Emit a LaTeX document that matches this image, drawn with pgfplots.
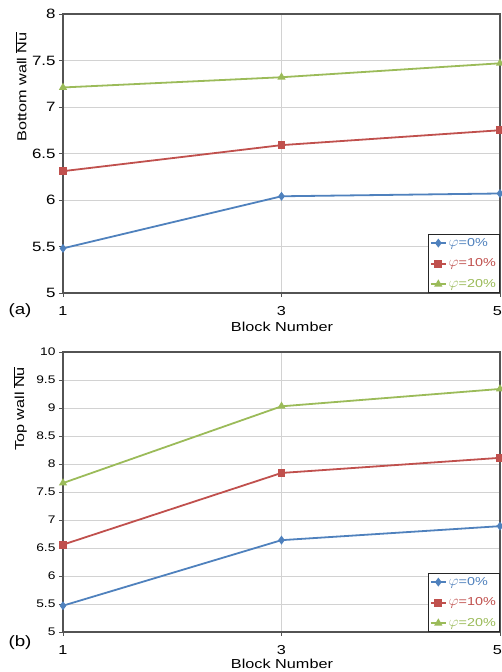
\documentclass[border=0pt]{standalone}
\usepackage{graphicx}
\usepackage{pgfplots}
\pgfplotsset{compat=1.18}
\usepackage{fontspec}
\setmainfont{Liberation Sans}[FakeStretch=1.25]
\definecolor{cblue}{HTML}{4F81BD}
\definecolor{cred}{HTML}{C0504D}
\definecolor{cgreen}{HTML}{9BBB59}
\newcommand{\phib}{\scalebox{1.3}[1.2]{$\varphi$}}
\begin{document}
\begin{tikzpicture}
\pgfplotsset{
 mybase/.style={
  scale only axis, width=437pt, anchor=south west,
  xmin=1, xmax=5, xtick={1,3,5}, xticklabels={1,3,{\hspace*{-2.5pt}5\hspace*{2.5pt}}},
  grid=major, grid style={gray!35, line width=0.8pt},
  axis line style={gray!65!black, line width=1.2pt},
  tick style={gray!65!black, line width=0.8pt},
  tick align=outside, major tick length=4pt,
  xtick pos=lower, ytick pos=left,
  /pgf/number format/assume math mode=true,
  xticklabel style={font=\fontsize{13}{15}\selectfont, yshift=-6pt},
  legend style={at={(1,0)}, anchor=south east, draw=black!85, line width=1.2pt,
    font=\fontsize{11.5}{13}\selectfont, legend cell align=left, row sep=7pt, inner sep=1.5pt},
  legend image code/.code={\draw[mark repeat=2,mark phase=2,#1] plot coordinates {(0pt,0pt)(7.5pt,0pt)(15pt,0pt)};},
  every axis plot/.append style={line width=1.8pt},
 }
}
\begin{axis}[mybase, at={(63pt,379pt)}, height=279pt, ymin=5, ymax=8,
  ytick={5,5.5,6,6.5,7,7.5,8}, yticklabel style={font=\fontsize{13.5}{15}\selectfont}]
\addplot[cblue, mark=diamond*, mark size=3pt, mark options={solid,fill=cblue}] coordinates {(1,5.48)(3,6.04)(5,6.07)};
\addlegendentry{\textcolor{cblue}{\phib=0\%}}
\addplot[cred, mark=square*, mark size=3pt, mark options={solid,fill=cred}] coordinates {(1,6.31)(3,6.59)(5,6.75)};
\addlegendentry{\textcolor{cred}{\phib=10\%}}
\addplot[cgreen, mark=triangle*, mark size=3pt, mark options={solid,fill=cgreen}] coordinates {(1,7.21)(3,7.32)(5,7.47)};
\addlegendentry{\textcolor{cgreen}{\phib=20\%}}
\end{axis}
\begin{axis}[mybase, at={(63pt,40pt)}, height=280pt, ymin=5, ymax=10,
  ytick={5,5.5,6,6.5,7,7.5,8,8.5,9,9.5,10}, yticklabel style={font=\fontsize{11}{12}\selectfont}]
\addplot[cblue, mark=diamond*, mark size=3pt, mark options={solid,fill=cblue}] coordinates {(1,5.47)(3,6.64)(5,6.89)};
\addlegendentry{\textcolor{cblue}{\phib=0\%}}
\addplot[cred, mark=square*, mark size=3pt, mark options={solid,fill=cred}] coordinates {(1,6.56)(3,7.84)(5,8.11)};
\addlegendentry{\textcolor{cred}{\phib=10\%}}
\addplot[cgreen, mark=triangle*, mark size=3pt, mark options={solid,fill=cgreen}] coordinates {(1,7.66)(3,9.03)(5,9.34)};
\addlegendentry{\textcolor{cgreen}{\phib=20\%}}
\end{axis}
\node[rotate=90, font=\fontsize{13}{15}\selectfont] at (21pt,585pt) {Bottom wall $\overline{\mbox{Nu}}$};
\node[font=\fontsize{13}{15}\selectfont] at (282pt,345pt) {Block Number};
\node[font=\fontsize{15}{17}\selectfont] at (20pt,361pt) {(a)};
\node[rotate=90, font=\fontsize{13}{15}\selectfont] at (20pt,263pt) {Top wall $\overline{\mbox{Nu}}$};
\node[font=\fontsize{13}{15}\selectfont] at (282pt,8pt) {Block Number};
\node[font=\fontsize{15}{17}\selectfont] at (20pt,29pt) {(b)};
\pgfresetboundingbox
\useasboundingbox (0,0) rectangle (502pt,672pt);
\end{tikzpicture}
\end{document}
